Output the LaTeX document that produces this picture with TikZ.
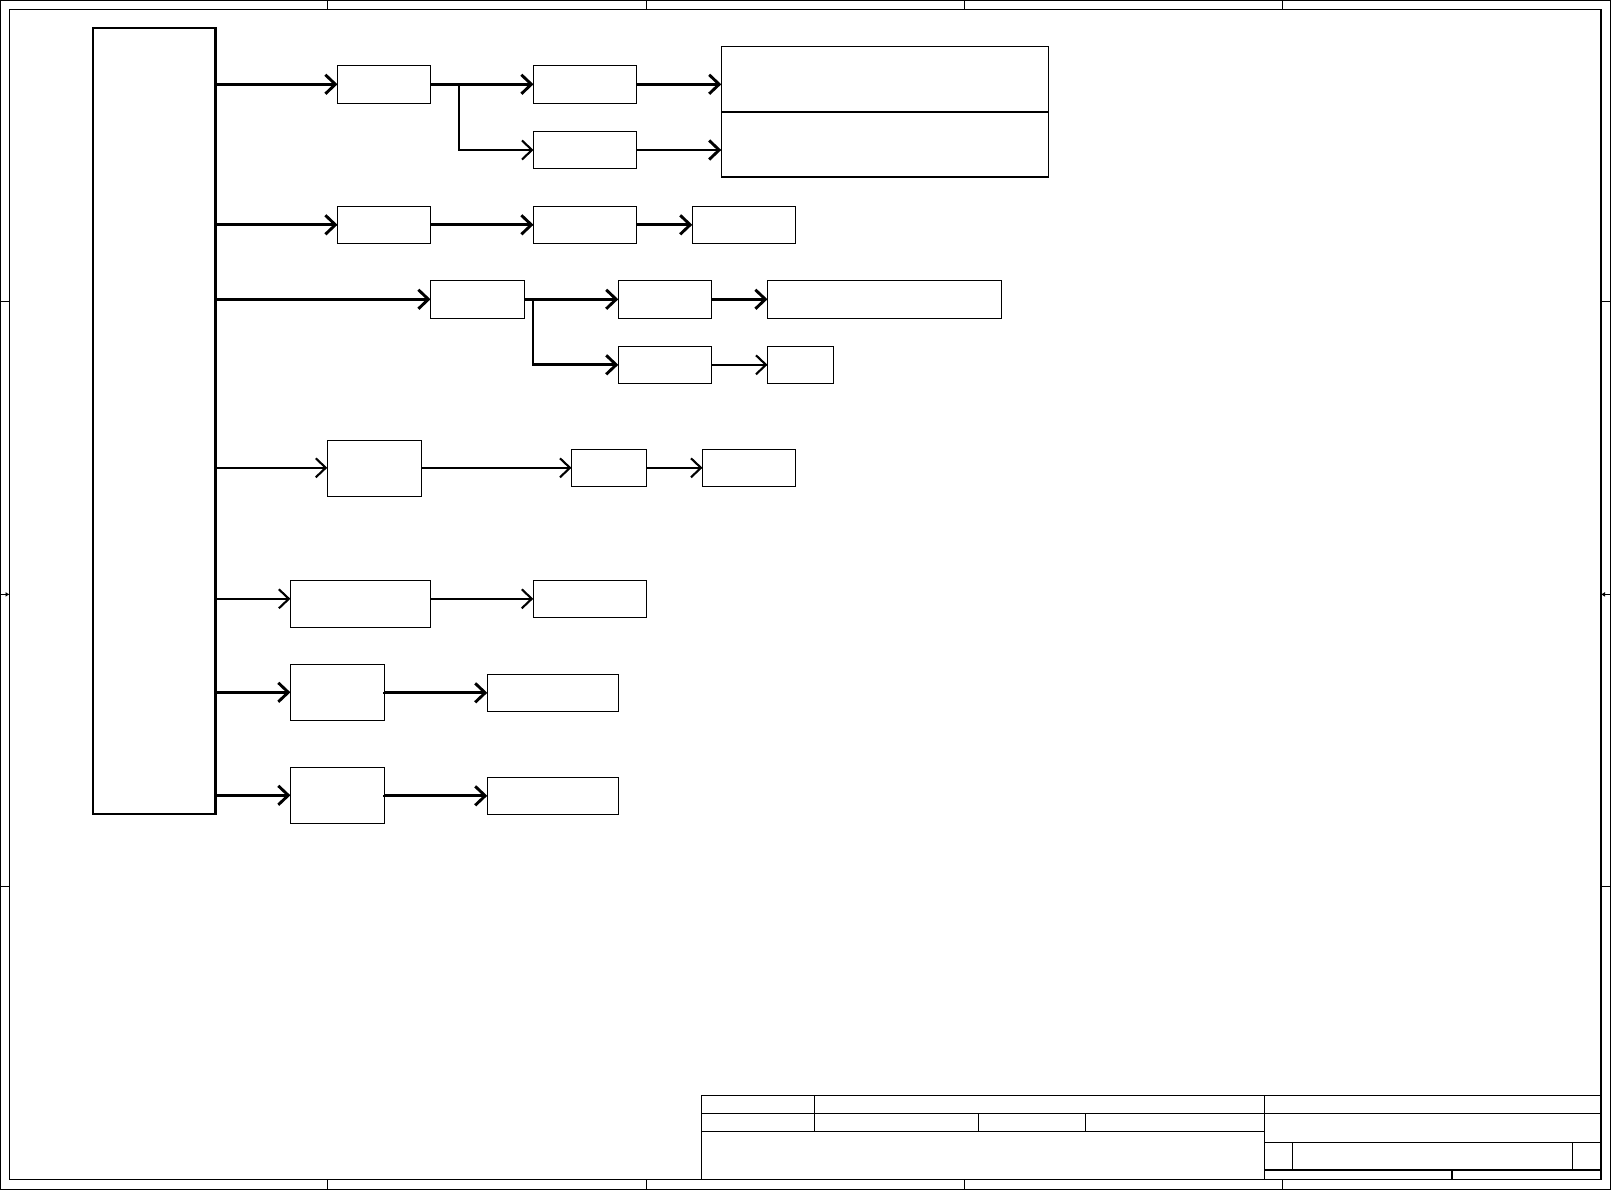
\documentclass[tikz,border=0pt]{standalone}
\usepackage{tikz}
\usetikzlibrary{arrows.meta}

\begin{document}
\begin{tikzpicture}[x=1pt, y=-1pt,
    >={Straight Barb[length=10pt,width=19pt]},
    blk/.style={draw, line width=1.1pt, inner sep=0pt, outer sep=0pt, anchor=north west},
    thk/.style={line width=2.9pt},
    med/.style={line width=2.1pt},
    frm/.style={line width=1.1pt}]
    \useasboundingbox (0,0) rectangle (1611,1190);

    % sheet frame
    \draw[frm] (0.5,0.5) rectangle (1610.3,1189.3);
    \draw[line width=1.3pt] (9.5,9.5) rectangle (1601,1179.5);
    \foreach \x in {327.7,646.1,964.5,1282.9} {
        \draw[frm] (\x,0.5) -- (\x,9.5);
        \draw[frm] (\x,1179.5) -- (\x,1189.3);
    }
    \foreach \y in {301.8,886.9} {
        \draw[frm] (0.5,\y) -- (9.5,\y);
        \draw[frm] (1601,\y) -- (1610.3,\y);
    }
    \draw[line width=1.5pt, -{Latex[length=4pt,width=5pt]}] (0.5,594.4) -- (9.5,594.4);
    \draw[line width=1.5pt, -{Latex[length=4pt,width=5pt]}] (1610.3,594.4) -- (1601,594.4);

    % title block
    \draw[frm] (701.5,1179.5) -- (701.5,1095.3) -- (1601,1095.3);
    \draw[frm] (701.5,1113.7) -- (1601,1113.7);
    \draw[frm] (701.5,1131.7) -- (1264.3,1131.7);
    \draw[frm] (1264.3,1142.3) -- (1601,1142.3);
    \draw[frm] (1264.3,1170) -- (1601,1170);
    \draw[frm] (814.8,1095.3) -- (814.8,1131.7);
    \draw[frm] (978.7,1113.7) -- (978.7,1131.7);
    \draw[frm] (1085.6,1113.7) -- (1085.6,1131.7);
    \draw[frm] (1264.3,1095.3) -- (1264.3,1179.5);
    \draw[frm] (1292.2,1142.3) -- (1292.2,1170);
    \draw[frm] (1572.5,1142.3) -- (1572.5,1170);
    \draw[frm] (1452,1170) -- (1452,1179.5);

    % blocks
    \node[blk, line width=2.9pt, minimum width=122.6pt, minimum height=786pt] (main) at (93,28) {};

    \node[blk, minimum width=92.9pt, minimum height=38pt] (a1) at (337.5,65.3) {};
    \node[blk, minimum width=102.9pt, minimum height=38pt] (b1) at (533.5,65.3) {};
    \node[blk, minimum width=102.9pt, minimum height=37.4pt] (b2) at (533.5,131.3) {};
    \node[blk, minimum width=327pt, minimum height=65.7pt] (c1) at (721.3,46.3) {};
    \node[blk, minimum width=327pt, minimum height=65pt] (c2) at (721.3,112) {};

    \node[blk, minimum width=92.9pt, minimum height=37pt] (k1) at (337.5,206.3) {};
    \node[blk, minimum width=102.9pt, minimum height=37pt] (k2) at (533.5,206.3) {};
    \node[blk, minimum width=103.4pt, minimum height=37pt] (k3) at (692.3,206.3) {};

    \node[blk, minimum width=94.1pt, minimum height=38pt] (d1) at (430.5,280.3) {};
    \node[blk, minimum width=93.4pt, minimum height=38pt] (e1) at (618.3,280.3) {};
    \node[blk, minimum width=93.4pt, minimum height=37pt] (e2) at (618.3,346.3) {};
    \node[blk, minimum width=234.2pt, minimum height=38pt] (f1) at (767.5,280.3) {};
    \node[blk, minimum width=66pt, minimum height=37pt] (f2) at (767.5,346.3) {};

    \node[blk, minimum width=94.5pt, minimum height=56pt] (g1) at (327.3,440.3) {};
    \node[blk, minimum width=75pt, minimum height=37pt] (g2) at (571.5,449.3) {};
    \node[blk, minimum width=93.3pt, minimum height=37pt] (g3) at (702.5,449.3) {};

    \node[blk, minimum width=140.1pt, minimum height=47pt] (h1) at (290.4,580.3) {};
    \node[blk, minimum width=113.2pt, minimum height=37pt] (h2) at (533.3,580.3) {};

    \node[blk, minimum width=94.1pt, minimum height=56pt] (i1) at (290.4,664.3) {};
    \node[blk, minimum width=131.4pt, minimum height=37pt] (i2) at (487.3,674.3) {};

    \node[blk, minimum width=94.1pt, minimum height=56pt] (j1) at (290.4,767.3) {};
    \node[blk, minimum width=131.4pt, minimum height=37pt] (j2) at (487.3,777.3) {};

    \coordinate (s1) at (459,84.3);
    \coordinate (s2) at (533,299.3);

    % connections
    \draw[thk,->] (main.east |- a1.west) -- (a1.west);
    \draw[thk,->] (a1.east) -- (b1.west);
    \draw[med,->] (s1) |- (b2.west);
    \draw[thk,->] (b1.east) -- (b1.east -| c1.west);
    \draw[thk,->] (b2.east) -- (b2.east -| c2.west);

    \draw[thk,->] (main.east |- k1.west) -- (k1.west);
    \draw[thk,->] (k1.east) -- (k2.west);
    \draw[thk,->] (k2.east) -- (k3.west);

    \draw[thk,->] (main.east |- d1.west) -- (d1.west);
    \draw[thk,->] (d1.east) -- (e1.west);
    \draw[thk,->] (s2) |- (e2.west);
    \draw[thk,->] (e1.east) -- (f1.west);
    \draw[med,->] (e2.east) -- (f2.west);

    \draw[med,->] (main.east |- g2.west) -- (g1.west |- g2.west);
    \draw[med,->] (g1.east |- g2.west) -- (g2.west);
    \draw[med,->] (g2.east) -- (g3.west);

    \draw[med,->] (main.east |- h2.west) -- (h1.west |- h2.west);
    \draw[med,->] (h1.east |- h2.west) -- (h2.west);

    \draw[thk,->] (main.east |- i1.west) -- (i1.west);
    \draw[thk,->] (i1.east) -- (i1.east |- i2.west) -- (i2.west);

    \draw[thk,->] (main.east |- j1.west) -- (j1.west);
    \draw[thk,->] (j1.east) -- (j1.east |- j2.west) -- (j2.west);
\end{tikzpicture}
\end{document}
